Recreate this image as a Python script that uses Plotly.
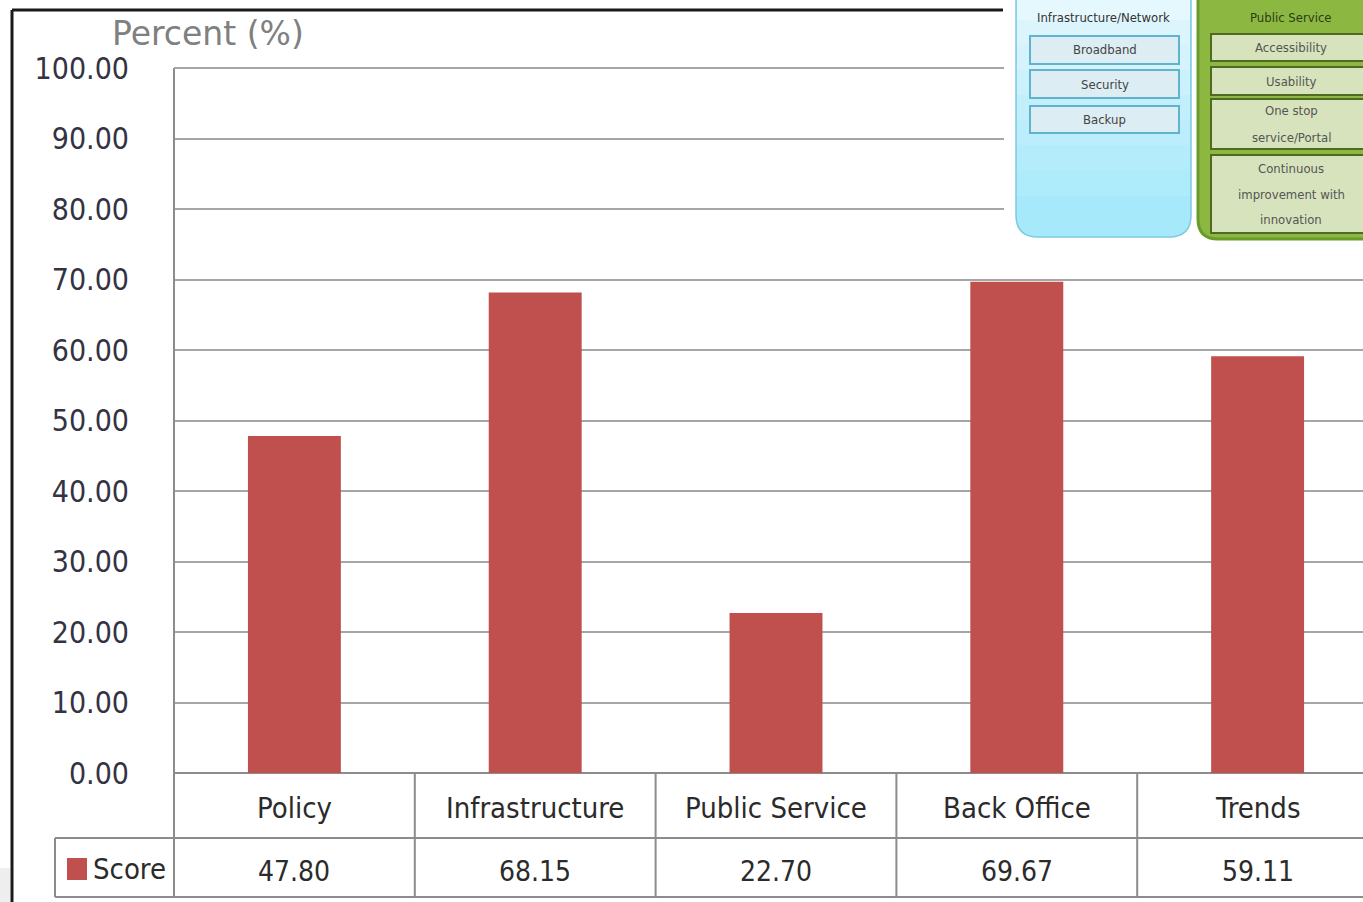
import plotly.graph_objects as go

categories = ["Policy", "Infrastructure", "Public Service", "Back Office", "Trends"]
scores = [47.80, 68.15, 22.70, 69.67, 59.11]
y_ticks = [0, 10, 20, 30, 40, 50, 60, 70, 80, 90, 100]
y_tick_labels = ["%.2f" % v for v in y_ticks]
series_name = "Score"
axis_title = "Percent (%)"
infra_title = "Infrastructure/Network"
infra_items = ["Broadband", "Security", "Backup"]
public_title = "Public Service"
public_items = [["Accessibility"], ["Usability"], ["One stop", "service/Portal"],
                ["Continuous", "improvement with", "innovation"]]

SW, SH = 1363, 902
W, H = SW, SH
L, T, B = 174, 68, 773


def px(x):
    return (x - L) / (SW - L)


def py(y):
    return (B - y) / (B - T)


COND = "DejaVu Sans Condensed, DejaVu Sans, sans-serif"
TXT = "#2b2b2b"
LINE = "#8c8c8c"

fig = go.Figure()
fig.add_trace(go.Bar(x=categories, y=scores, name=series_name,
                     marker=dict(color="#c0504d", line=dict(width=0)),
                     width=0.386, showlegend=False, hoverinfo="x+y"))

shapes = []
annotations = []


def line(x0, y0, x1, y1, color=LINE, width=2, layer="above"):
    shapes.append(dict(type="line", xref="paper", yref="paper",
                       x0=px(x0), y0=py(y0), x1=px(x1), y1=py(y1),
                       line=dict(color=color, width=width), layer=layer))


def rect(x0, y0, x1, y1, fill, lc=None, lw=0, layer="above"):
    shapes.append(dict(type="rect", xref="paper", yref="paper",
                       x0=px(x0), y0=py(y0), x1=px(x1), y1=py(y1),
                       fillcolor=fill,
                       line=dict(color=lc or fill, width=lw), layer=layer))


def rounded_bottom(x0, y0, x1, y1, r, fill, lc, lw):
    path = (f"M {px(x0)},{py(y0)} L {px(x0)},{py(y1 - r)} "
            f"Q {px(x0)},{py(y1)} {px(x0 + r)},{py(y1)} "
            f"L {px(x1 - r)},{py(y1)} "
            f"Q {px(x1)},{py(y1)} {px(x1)},{py(y1 - r)} "
            f"L {px(x1)},{py(y0)} Z")
    shapes.append(dict(type="path", xref="paper", yref="paper", path=path,
                       fillcolor=fill, line=dict(color=lc, width=lw),
                       layer="above"))


def text(x, y, s, size, color=TXT, family=COND, xanchor="center"):
    annotations.append(dict(x=px(x), y=py(y), xref="paper", yref="paper",
                            text=s, showarrow=False, xanchor=xanchor,
                            yanchor="middle",
                            font=dict(size=size, color=color, family=family)))


# plot-area border (left, top) and table grid
line(L, T, L, 897)
line(L, T, 1004, T, color="#a6a6a6")
line(55, 838, 1400, 838)
line(55, 897, 1400, 897)
line(55, 838, 55, 897)
for i in range(len(categories)):
    xb = i + 0.5
    shapes.append(dict(type="line", xref="x", yref="paper",
                       x0=xb, x1=xb, y0=py(773), y1=py(897),
                       line=dict(color=LINE, width=2), layer="above"))

# table text
for c, v in zip(categories, scores):
    annotations.append(dict(x=c, y=py(808), xref="x", yref="paper", text=c,
                            showarrow=False, yanchor="middle",
                            font=dict(size=29, color=TXT, family=COND)))
    annotations.append(dict(x=c, y=py(871), xref="x", yref="paper",
                            text="%.2f" % v, showarrow=False, yanchor="middle",
                            font=dict(size=28, color=TXT, family=COND)))
rect(67, 858, 87, 880, "#c0504d")
text(91, 869, series_name, 29, xanchor="left")

# axis title
text(208, 33, axis_title, 33, color="#808080", family="DejaVu Sans, sans-serif")

# outer chart frame
line(12, 10, 12, 905, color="#1a1a1a", width=3)
line(12, 10, 1003, 10, color="#1a1a1a", width=3)
rect(-5, 868, 10, 905, "#eeeeee")

# overlay picture (top right)
rect(1004, -5, 1400, 246, "#ffffff")

SMALL = "DejaVu Sans Condensed, sans-serif"
# blue panel
rounded_bottom(1016, -10, 1191, 237, 22, "#a6e9fb", "#7ccbe2", 1.5)
blues = ["#e4f8fd", "#dcf5fd", "#d4f3fc", "#cbf1fc", "#c3effc",
         "#bbedfc", "#b4ecfc", "#aeebfb"]
step = 200 / len(blues)
for i, c in enumerate(blues):
    rect(1017, -5 + i * step, 1190, -5 + (i + 1) * step + 1, c)
text(1103, 18, infra_title, 13, color="#333333", family=SMALL)
for (y0, y1), s in zip([(36, 64), (70, 98), (106, 133)], infra_items):
    rect(1030, y0, 1179, y1, "#dcedf3", lc="#5fb3cc", lw=2)
    text(1104.5, (y0 + y1) / 2, s, 13, color="#444444", family=SMALL)

# green panel
rounded_bottom(1198, -10, 1420, 239, 20, "#8cb842", "#6b9a2c", 3)
text(1291, 18, public_title, 13, color="#2f3a1a", family=SMALL)
for (y0, y1), lines in zip([(34, 61), (67, 95), (99, 149), (155, 233)], public_items):
    rect(1211, y0, 1420, y1, "#d6e3bc", lc="#4f6b22", lw=2)
    n_l = len(lines)
    gap = 26 if n_l > 1 else 0
    mid = (y0 + y1) / 2
    for k, s in enumerate(lines):
        text(1291, mid + (k - (n_l - 1) / 2) * gap, s, 13, color="#555555", family=SMALL)

n = len(categories)
x_max = -0.5 + (SW - L) / ((1378 - L) / n)

fig.update_layout(
    width=W, height=H,
    margin=dict(l=L, r=0, t=T, b=H - B, pad=0),
    paper_bgcolor="white", plot_bgcolor="white",
    xaxis=dict(range=[-0.5, x_max], showticklabels=False, showgrid=False,
               zeroline=False, showline=False, ticks="", fixedrange=True),
    yaxis=dict(range=[0, 100], tickvals=y_ticks, ticktext=y_tick_labels,
               showgrid=True, gridcolor="#a6a6a6", gridwidth=2,
               zeroline=True, zerolinecolor=LINE, zerolinewidth=2,
               showline=False, ticks="", ticklabelstandoff=44,
               tickfont=dict(size=30, color="#333344", family=COND)),
    shapes=shapes, annotations=annotations,
)

fig.write_html("out.html",
               config={"displayModeBar": False},
               post_script="document.body.style.margin='0';"
                           "document.body.style.overflow='hidden';")
